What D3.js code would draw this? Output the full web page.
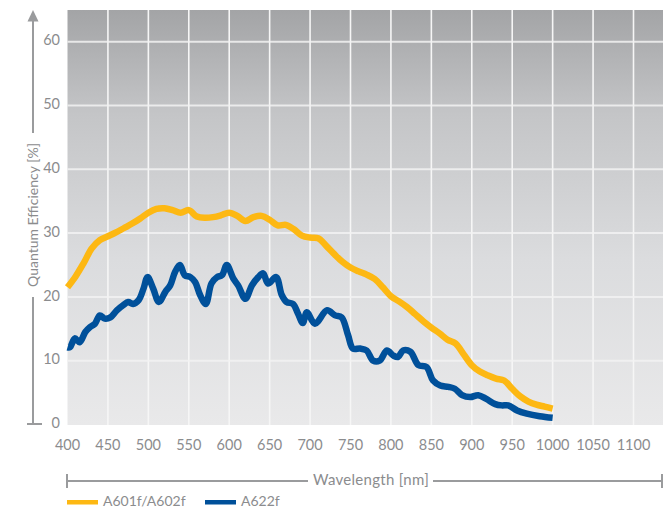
<!DOCTYPE html>
<html lang="en">
<head>
    <meta charset="UTF-8">
    <title>Quantum Efficiency</title>
    <script src="https://d3js.org/d3.v7.min.js"></script>
    <style>
        body { margin: 0; background: #fff; }
        text { font-family: Lato, "Open Sans", sans-serif; }
    </style>
</head>
<body>
    <svg id="chart" width="663" height="516"></svg>

    <script>
        const width = 663;
        const height = 516;

        // wavelength ticks and value ticks
        const xTicks = [400, 450, 500, 550, 600, 650, 700, 750, 800, 850, 900, 950, 1000, 1050, 1100];
        const yTicks = [0, 10, 20, 30, 40, 50, 60];

        // A601f/A602f, every 10 nm
        const yellowNm = d3.range(400, 1001, 10);
        const yellowQE = [21.5, 23.2, 25.3, 27.6, 28.9, 29.5, 30.1, 30.8, 31.5, 32.3,
            33.2, 33.8, 33.9, 33.6, 33.2, 33.6, 32.6, 32.4, 32.5, 32.8,
            33.2, 32.7, 31.9, 32.5, 32.7, 32.1, 31.2, 31.3, 30.6, 29.6,
            29.3, 29.2, 28.0, 26.7, 25.5, 24.6, 24.0, 23.5, 22.8, 21.5,
            20.1, 19.3, 18.4, 17.3, 16.2, 15.2, 14.3, 13.3, 12.7, 11.0,
            9.3, 8.3, 7.7, 7.2, 6.9, 5.6, 4.4, 3.6, 3.1, 2.8, 2.5];

        // A622f, read at its turning points
        const blueNm = [400, 403, 409, 415, 422, 428, 434, 440, 446, 453, 461, 469, 475, 481, 488,
            494, 499, 506, 513, 521, 527, 533, 539, 545, 552, 558, 564, 571, 578, 585,
            591, 597, 605, 611, 620, 628, 636, 642, 648, 658, 665, 671, 679, 685, 691,
            696, 706, 721, 731, 739, 747, 753, 762, 770, 778, 786, 795, 803, 809, 815,
            824, 834, 844, 852, 861, 871, 879, 888, 898, 908, 918, 929, 937, 945, 956,
            968, 984, 1000];
        const blueQE = [12.1, 12.1, 13.5, 12.9, 14.5, 15.3, 15.8, 17.1, 16.6, 16.8, 17.9, 18.7, 19.2, 18.9, 19.5,
            21.3, 23.1, 21.3, 19.2, 20.8, 21.8, 23.9, 25.0, 23.4, 23.1, 22.3, 20.3, 18.9, 22.1, 23.1,
            23.4, 25.0, 22.9, 21.8, 19.7, 21.8, 23.1, 23.7, 22.1, 23.1, 20.3, 19.2, 18.9, 17.4, 15.9,
            17.6, 15.8, 17.9, 17.1, 16.8, 14.0, 11.9, 11.9, 11.6, 10.0, 10.0, 11.6, 10.8, 10.6, 11.6,
            11.4, 9.3, 9.0, 6.9, 6.1, 5.9, 5.6, 4.6, 4.3, 4.6, 4.0, 3.2, 3.0, 3.0, 2.2,
            1.7, 1.3, 1.05];

        const seriesNames = ["A601f/A602f", "A622f"];
        const seriesColors = ["#fdb813", "#00509a"];

        const svg = d3.select("#chart");

        const plot = { left: 67.5, right: 663, top: 10, bottom: 425 };

        const x = d3.scaleLinear().domain([400, 1100]).range([67.5, 633.5]);
        const y = d3.scaleLinear().domain([0, 60]).range([424.5, 41.7]);

        // background gradient
        const defs = svg.append("defs");
        const grad = defs.append("linearGradient")
            .attr("id", "bg").attr("x1", 0).attr("y1", 0).attr("x2", 0).attr("y2", 1);
        grad.append("stop").attr("offset", "0%").attr("stop-color", "#a3a4a6");
        grad.append("stop").attr("offset", "25%").attr("stop-color", "#c4c5c7");
        grad.append("stop").attr("offset", "60%").attr("stop-color", "#dbdcde");
        grad.append("stop").attr("offset", "100%").attr("stop-color", "#e9e9ea");

        svg.append("rect")
            .attr("x", plot.left).attr("y", plot.top)
            .attr("width", plot.right - plot.left).attr("height", plot.bottom - plot.top)
            .attr("fill", "url(#bg)");

        // grid
        svg.append("g").selectAll("line")
            .data(xTicks.slice(1))
            .enter().append("line")
            .attr("x1", d => x(d)).attr("x2", d => x(d))
            .attr("y1", plot.top).attr("y2", plot.bottom)
            .attr("stroke", "#f6f6f6").attr("stroke-width", 1.6);

        svg.append("g").selectAll("line")
            .data(yTicks.slice(1))
            .enter().append("line")
            .attr("x1", plot.left).attr("x2", plot.right)
            .attr("y1", d => y(d)).attr("y2", d => y(d))
            .attr("stroke", "#f2f2f2").attr("stroke-opacity", 0.85).attr("stroke-width", 2);

        // curves
        const line = d3.line()
            .x(d => x(d[0]))
            .y(d => y(d[1]))
            .curve(d3.curveCatmullRom.alpha(0.5));

        const yellowData = d3.zip(yellowNm, yellowQE);
        const blueData = d3.zip(blueNm, blueQE);

        [yellowData, blueData].forEach((data, i) => {
            svg.append("path")
                .datum(data)
                .attr("d", line)
                .attr("fill", "none")
                .attr("stroke", seriesColors[i])
                .attr("stroke-width", 6.5)
                .attr("stroke-linejoin", "round")
                .attr("stroke-linecap", "butt");
        });

        // tick labels
        const labelColor = "#8b8c8e";
        svg.append("g").selectAll("text")
            .data(yTicks)
            .enter().append("text")
            .attr("x", 60).attr("y", d => y(d))
            .attr("text-anchor", "end")
            .attr("dominant-baseline", "middle")
            .attr("font-size", 14.5)
            .attr("fill", labelColor)
            .text(d => d);

        svg.append("g").selectAll("text")
            .data(xTicks)
            .enter().append("text")
            .attr("x", d => x(d)).attr("y", 446)
            .attr("text-anchor", "middle")
            .attr("dominant-baseline", "middle")
            .attr("font-size", 14.5)
            .attr("fill", labelColor)
            .text(d => d);

        // y axis arrow with title
        const axisColor = "#9a9b9d";
        const ya = svg.append("g").attr("stroke", axisColor).attr("stroke-width", 2);
        ya.append("line").attr("x1", 33).attr("x2", 33).attr("y1", 20).attr("y2", 133);
        ya.append("line").attr("x1", 33).attr("x2", 33).attr("y1", 297).attr("y2", 424);
        ya.append("line").attr("x1", 27).attr("x2", 42).attr("y1", 424).attr("y2", 424);
        svg.append("path")
            .attr("d", "M33,10 L27.5,21.5 L38.5,21.5 Z")
            .attr("fill", axisColor);

        svg.append("text")
            .attr("transform", "translate(38,215) rotate(-90)")
            .attr("text-anchor", "middle")
            .attr("font-size", 14)
            .attr("fill", labelColor)
            .text("Quantum Efficiency [%]");

        // x axis bar with title
        const xa = svg.append("g").attr("stroke", axisColor).attr("stroke-width", 2);
        xa.append("line").attr("x1", 67).attr("x2", 308).attr("y1", 481).attr("y2", 481);
        xa.append("line").attr("x1", 433).attr("x2", 662).attr("y1", 481).attr("y2", 481);
        xa.append("line").attr("x1", 67).attr("x2", 67).attr("y1", 474).attr("y2", 488);
        xa.append("line").attr("x1", 662).attr("x2", 662).attr("y1", 474).attr("y2", 488);

        svg.append("text")
            .attr("x", 371).attr("y", 481)
            .attr("text-anchor", "middle")
            .attr("dominant-baseline", "middle")
            .attr("font-size", 15)
            .attr("letter-spacing", 0.3)
            .attr("fill", labelColor)
            .text("Wavelength [nm]");

        // legend
        const legendX = [67, 205];
        seriesNames.forEach((name, i) => {
            svg.append("rect")
                .attr("x", legendX[i]).attr("y", 500)
                .attr("width", 31).attr("height", 4.5)
                .attr("fill", seriesColors[i]);
            svg.append("text")
                .attr("x", legendX[i] + 36).attr("y", 502)
                .attr("dominant-baseline", "middle")
                .attr("font-size", 14)
                .attr("fill", labelColor)
                .text(name);
        });
    </script>
</body>
</html>
